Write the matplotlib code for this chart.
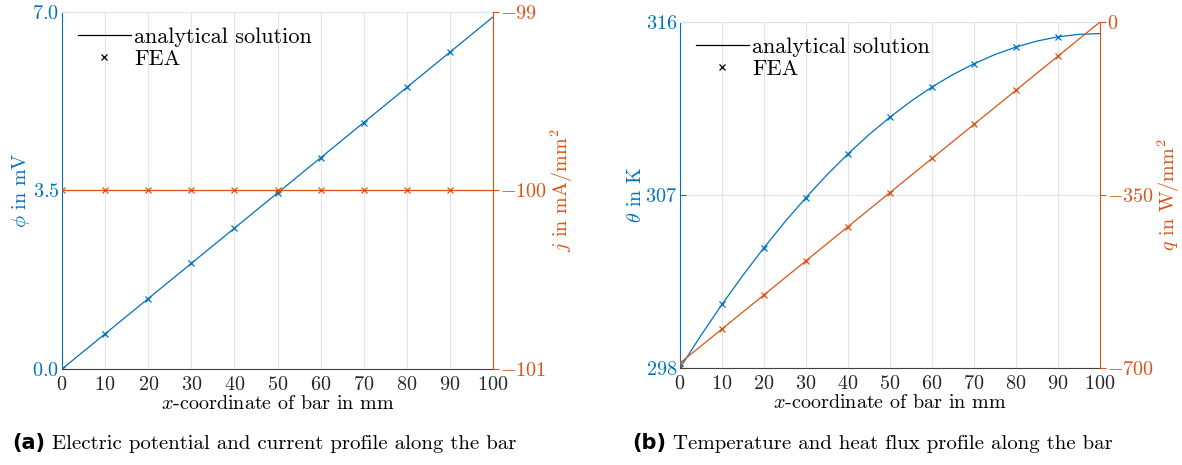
import numpy as np
import matplotlib.pyplot as plt
from matplotlib.lines import Line2D

plt.rcParams['font.family'] = 'cmr10'
plt.rcParams['mathtext.fontset'] = 'cm'
plt.rcParams['axes.formatter.use_mathtext'] = True
plt.rcParams['font.size'] = 14.5

blue = '#0072BD'
orange = '#D95319'

# x positions (mm)
x_line = [0, 5, 10, 15, 20, 25, 30, 35, 40, 45, 50, 55, 60, 65, 70, 75, 80, 85, 90, 95, 100]
x_fea = [0, 10, 20, 30, 40, 50, 60, 70, 80, 90]

# (a) electric potential (mV) and current density (mA/mm^2)
phi_line = [0.0, 0.345, 0.69, 1.035, 1.38, 1.725, 2.07, 2.415, 2.76, 3.105, 3.45,
            3.795, 4.14, 4.485, 4.83, 5.175, 5.52, 5.865, 6.21, 6.555, 6.9]
phi_fea = [0.0, 0.69, 1.38, 2.07, 2.76, 3.45, 4.14, 4.83, 5.52, 6.21]
j_line = [-100.0] * len(x_line)
j_fea = [-100.0] * len(x_fea)

# (b) temperature (K) and heat flux (W/mm^2)
theta_line = [298.0, 299.70, 301.31, 302.83, 304.26, 305.61, 306.87, 308.05, 309.14, 310.14, 311.05,
              311.88, 312.62, 313.27, 313.83, 314.31, 314.70, 315.01, 315.23, 315.36, 315.40]
theta_fea = [298.0, 301.31, 304.26, 306.87, 309.14, 311.05, 312.62, 313.83, 314.70, 315.23]
q_line = [-690, -655.5, -621, -586.5, -552, -517.5, -483, -448.5, -414, -379.5, -345,
          -310.5, -276, -241.5, -207, -172.5, -138, -103.5, -69, -34.5, 0]
q_fea = [-690, -621, -552, -483, -414, -345, -276, -207, -138, -69]

xticks = [0, 10, 20, 30, 40, 50, 60, 70, 80, 90, 100]

fig = plt.figure(figsize=(11.82, 4.65), dpi=100)


def panel(rect, xl, yl, yf, y2l, y2f, ylim, yticks, y2lim, y2ticks, ylab, y2lab):
    ax = fig.add_axes(rect)
    ax.plot(xl, yl, color=blue, lw=0.9)
    ax.plot(x_fea, yf, 'x', color=blue, ms=5, mew=0.9)
    ax.set_xlim(0, 100)
    ax.set_ylim(*ylim)
    ax.set_xticks(xticks)
    ax.set_yticks(yticks)
    ax.grid(True, color='#e3e3e3', lw=0.8)
    ax.set_axisbelow(True)
    ax.tick_params(axis='y', colors=blue, direction='in', length=4, pad=2)
    ax.tick_params(axis='x', colors='#262626', direction='in', length=0, pad=5)
    ax.spines['left'].set_color(blue)
    ax.spines['bottom'].set_color('#404040')
    ax.spines['top'].set_color('#dde6ee')
    ax.spines['right'].set_visible(False)
    ax.set_ylabel(ylab, color=blue, labelpad=0)
    ax.set_xlabel(r'$x$-coordinate of bar in mm', labelpad=1)

    ax2 = ax.twinx()
    ax2.plot(xl, y2l, color=orange, lw=0.9)
    ax2.plot(x_fea, y2f, 'x', color=orange, ms=5, mew=0.9)
    ax2.set_ylim(*y2lim)
    ax2.set_yticks(y2ticks)
    ax2.tick_params(axis='y', colors=orange, direction='out', length=4, pad=1)
    ax2.spines['right'].set_color(orange)
    for s in ['left', 'top', 'bottom']:
        ax2.spines[s].set_visible(False)
    ax2.set_ylabel(y2lab, color=orange, labelpad=1)

    handles = [Line2D([], [], color='black', lw=0.9),
               Line2D([], [], color='black', ls='none', marker='x', ms=5, mew=0.9)]
    ax2.legend(handles, ['analytical solution', 'FEA'], loc='upper left', frameon=False,
               fontsize=16, borderaxespad=0.3, handlelength=2.4, handletextpad=0.15,
               labelspacing=0.1)
    return ax, ax2


panel([0.0525, 0.2065, 0.3646, 0.768], x_line, phi_line, phi_fea, j_line, j_fea,
      (0, 7), [0, 3.5, 7], (-101, -99), [-101, -100, -99],
      r'$\phi$ in mV', r'$j$ in mA/mm$^2$')

panel([0.5753, 0.2086, 0.3553, 0.744], x_line, theta_line, theta_fea, q_line, q_fea,
      (298, 316), [298, 307, 316], (-700, 0), [-700, -350, 0],
      r'$\theta$ in K', r'$q$ in W/mm$^2$')

fig.text(0.010, 0.035, '(a)', family='DejaVu Sans', weight='bold', fontsize=15)
fig.text(0.044, 0.035, 'Electric potential and current profile along the bar', fontsize=15)
fig.text(0.535, 0.035, '(b)', family='DejaVu Sans', weight='bold', fontsize=15)
fig.text(0.569, 0.035, 'Temperature and heat flux profile along the bar', fontsize=15)

fig.savefig('out.png', dpi=100)
